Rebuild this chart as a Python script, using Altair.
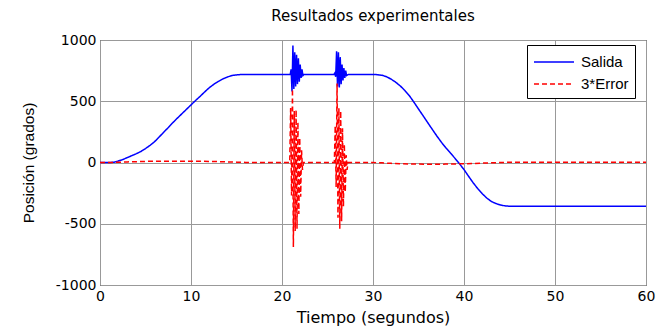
import altair as alt
import pandas as pd

# Salida (output position, degrees)
t_salida = [0, 1.0, 1.5, 2.0, 2.5, 3.0, 3.5, 4.0, 4.5, 5.0, 5.5, 6.0, 6.5, 7.0, 7.5, 8.0, 8.5, 9.0, 9.5,
            10.0, 10.5, 11.0, 11.5, 12.0, 12.5, 13.0, 13.5, 14.0, 14.5, 15.0, 15.5,
            20.9, 21.0, 21.1, 21.2, 21.3, 21.4, 21.5, 21.6, 21.7, 21.8, 21.9, 22.0, 22.1, 22.2, 22.3, 22.4,
            25.7, 25.8, 25.9, 26.0, 26.1, 26.2, 26.3, 26.4, 26.5, 26.6, 26.7, 26.8, 26.9, 27.0, 27.1, 27.3,
            30.3, 31.0, 31.5, 32.0, 32.5, 33.0, 33.5, 34.0, 34.5, 35.0, 35.5, 36.0, 36.5, 37.0, 37.5, 38.0,
            38.5, 39.0, 39.5, 40.0, 40.5, 41.0, 41.5, 42.0, 42.5, 43.0, 43.5, 44.0, 44.5, 45.0, 60.0]
salida = [0, 0, 2, 12, 24, 40, 56, 72, 90, 114, 140, 170, 208, 247, 285, 325, 362, 398, 434,
          470, 506, 540, 576, 610, 638, 662, 682, 698, 710, 715, 718,
          718, 760, 580, 955, 600, 900, 620, 880, 640, 850, 660, 800, 690, 760, 710, 718,
          718, 730, 700, 908, 620, 900, 612, 860, 640, 800, 670, 770, 690, 750, 710, 718,
          718, 712, 700, 680, 655, 625, 588, 545, 492, 437, 382, 327, 272, 218, 167, 120,
          78, 35, -10, -58, -112, -165, -212, -254, -290, -318, -335, -347, -354, -357, -357]

# 3*Error
t_error = [0, 1, 2, 3, 4, 5, 6, 7, 8, 9, 10, 11, 12, 13, 14, 15, 16, 18, 20, 20.85,
           20.95, 21.05, 21.15, 21.25, 21.35, 21.45, 21.55, 21.65, 21.75, 21.85, 21.95, 22.05, 22.15, 22.25, 22.35,
           24, 25.75,
           25.85, 25.95, 26.05, 26.15, 26.25, 26.35, 26.45, 26.55, 26.65, 26.75, 26.85, 26.95, 27.05, 27.15, 27.25,
           28, 30, 31, 32, 33, 34, 35, 36, 37, 38, 39, 40, 41, 42, 43, 44, 45, 48, 52, 56, 60]
error3 = [0, 0, 2, 5, 7, 9, 10, 10, 11, 10, 10, 10, 9, 7, 5, 3, 1, 0, 0, 0,
          445, -270, 600, -690, 420, -560, 430, -540, 330, -420, 200, -280, 100, -60, 0,
          0, 0,
          300, -200, 645, -450, 445, -540, 420, -480, 280, -360, 150, -240, 60, -60, 0,
          0, 0, -3, -7, -10, -12, -13, -14, -14, -13, -12, -10, -8, -5, -3, 0, 2, 3, 3, 2, 2]

series = ["Salida", "3*Error"]
x_ticks = [0, 10, 20, 30, 40, 50, 60]
y_ticks = [-1000, -500, 0, 500, 1000]

df = pd.concat([
    pd.DataFrame({"t": t_salida, "v": salida, "serie": "Salida", "o": 0}),
    pd.DataFrame({"t": t_error, "v": error3, "serie": "3*Error", "o": 1}),
])

FONT = "Liberation Sans"
WIDE = "DejaVu Sans"

legend = alt.Legend(
    title=None, orient="none", legendX=427, legendY=5,
    symbolType="M-2,0H2", symbolSize=400, symbolStrokeWidth=1.5, symbolOffset=10,
    labelOffset=16,
    labelFontSize=15, labelFont=FONT, labelColor="black",
    strokeColor="black", fillColor="white", padding=6, rowPadding=3,
    labelLimit=200,
)

chart = alt.Chart(df).mark_line(strokeWidth=1.5, clip=True).encode(
    x=alt.X("t:Q", scale=alt.Scale(domain=[0, 60], nice=False, zero=False),
            axis=alt.Axis(values=x_ticks, title="Tiempo (segundos)", labelFlush=False,
                          labelExpr="'' + datum.value")),
    y=alt.Y("v:Q", scale=alt.Scale(domain=[-1000, 1000], nice=False),
            axis=alt.Axis(values=y_ticks, title="Posición (grados)", labelFlush=False,
                          labelExpr="'' + datum.value")),
    color=alt.Color("serie:N", scale=alt.Scale(domain=series, range=["#0000ff", "#ff0000"]), legend=legend),
    strokeDash=alt.StrokeDash("serie:N", scale=alt.Scale(domain=series, range=[[1, 0], [5, 3]]), legend=legend),
    order=alt.Order("o:Q"),
).properties(
    width=546, height=245,
    title=alt.Title("Resultados experimentales", fontSize=15, fontWeight="normal", font=WIDE,
                    color="black", offset=9, anchor="middle"),
    padding={"left": 92, "top": 32, "right": 13, "bottom": 42},
    autosize=alt.AutoSizeParams(type="none"),
).configure(font=FONT).configure_view(
    stroke="black", strokeWidth=1,
).configure_axis(
    grid=True, gridColor="#999999", gridWidth=1,
    domain=False, ticks=False,
    labelFontSize=14, labelColor="black", labelFont=WIDE, labelPadding=4,
    titleFontSize=15, titleColor="black", titleFontWeight="normal", titleFont=FONT,
).configure_axisX(titlePadding=6, titleFont=WIDE, titleFontSize=16).configure_axisY(titlePadding=19, titleFontSize=15.5)

chart.save("out.html", embed_options={"renderer": "svg", "actions": False})
